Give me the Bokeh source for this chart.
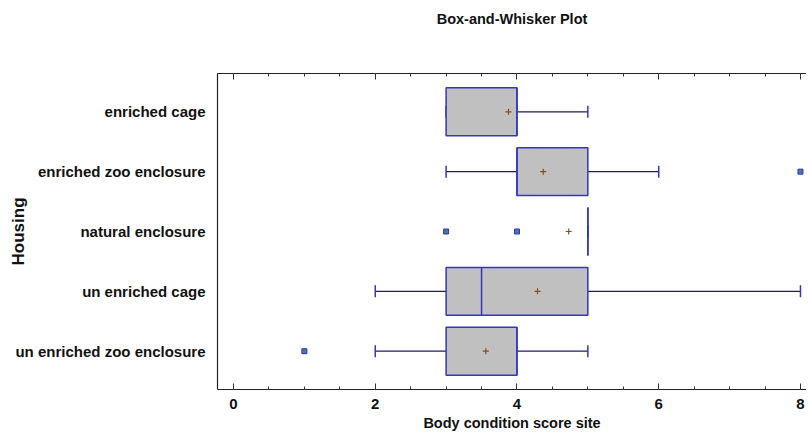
from bokeh.plotting import figure
from bokeh.models import (FactorRange, Range1d, LinearAxis, SingleIntervalTicker,
                          ColumnDataSource, CustomJSTickFormatter)
from bokeh.transform import dodge
from bokeh.embed import file_html
from bokeh.resources import INLINE

# ---- data ----
cats = ["enriched cage", "enriched zoo enclosure", "natural enclosure",
        "un enriched cage", "un enriched zoo enclosure"]
q1 = [3, 4, 5, 3, 3]
q3 = [4, 5, 5, 5, 4]
median = [4, 4, 5, 3.5, 4]
wmin = [3, 3, 5, 2, 2]
wmax = [5, 6, 5, 8, 5]
mean = [3.88, 4.37, 4.73, 4.29, 3.56]
out_cat = ["enriched zoo enclosure", "natural enclosure", "natural enclosure",
           "un enriched zoo enclosure"]
out_val = [8, 3, 4, 1]
x_ticks_interval = 2
title_text = "Box-and-Whisker Plot"

FONT = "Liberation Sans"
BOX_LINE = "#3434c8"
WHISK = "#1c1c60"
TXT = "#111111"

src = ColumnDataSource(dict(cat=cats, q1=q1, q3=q3, med=median,
                            wmin=wmin, wmax=wmax, mean=mean))
osrc = ColumnDataSource(dict(cat=out_cat, val=out_val))

yr = FactorRange(factors=cats[::-1], range_padding=0.056, range_padding_units="percent")
p = figure(width=806, height=434, y_range=yr, x_range=Range1d(-0.2257, 8.085),
           output_backend="svg", toolbar_location=None,
           min_border_left=217, min_border_right=0, min_border_top=73, min_border_bottom=45)
p.outline_line_color = None
p.xgrid.visible = False
p.ygrid.visible = False

# whiskers
p.segment(x0="wmin", x1="q1", y0="cat", y1="cat", source=src, line_color=WHISK, line_width=1.3)
p.segment(x0="q3", x1="wmax", y0="cat", y1="cat", source=src, line_color=WHISK, line_width=1.3)
# caps
for col in ("wmin", "wmax"):
    p.segment(x0=col, x1=col, y0=dodge("cat", -0.1, range=yr), y1=dodge("cat", 0.1, range=yr),
              source=src, line_color=BOX_LINE, line_width=1.5)
# boxes
p.hbar(y="cat", left="q1", right="q3", height=0.8, source=src,
       fill_color="#c0c0c0", line_color=BOX_LINE, line_width=1.5)
# medians
p.segment(x0="med", x1="med", y0=dodge("cat", -0.4, range=yr), y1=dodge("cat", 0.4, range=yr),
          source=src, line_color=BOX_LINE, line_width=1.5)
# means
p.scatter(x="mean", y="cat", source=src, marker="cross", size=6, line_color="#8a4a20", line_width=1.2)
# outliers
p.scatter(x="val", y="cat", source=osrc, marker="square", size=5,
          line_color="#3030c8", fill_color="#4a7a9a", line_width=1)

# bottom axis
xa = p.xaxis[0]
xa.ticker = SingleIntervalTicker(interval=x_ticks_interval, num_minor_ticks=4)
xa.major_tick_in = 6
xa.major_tick_out = 0
xa.minor_tick_in = 3
xa.minor_tick_out = 0
xa.axis_line_color = "#222222"
xa.axis_line_width = 1.2
xa.major_tick_line_color = "#333333"
xa.minor_tick_line_color = "#333333"
xa.major_label_text_font = FONT
xa.major_label_text_font_style = "bold"
xa.major_label_text_font_size = "15px"
xa.major_label_text_color = TXT
xa.major_label_standoff = 9
xa.axis_label = "Body condition score site"
xa.axis_label_text_font = FONT
xa.axis_label_text_font_style = "bold"
xa.axis_label_text_font_size = "14.5px"
xa.axis_label_text_color = TXT
xa.axis_label_standoff = 3

# top mirrored axis (ticks only); its label carries the chart title
ta = LinearAxis(ticker=SingleIntervalTicker(interval=x_ticks_interval, num_minor_ticks=4),
                formatter=CustomJSTickFormatter(code="return ''"),
                major_tick_in=6, major_tick_out=0, minor_tick_in=3, minor_tick_out=0,
                axis_line_color="#222222", axis_line_width=1.2,
                major_tick_line_color="#333333", minor_tick_line_color="#333333",
                major_label_standoff=0,
                axis_label=title_text, axis_label_standoff=47,
                axis_label_text_font=FONT, axis_label_text_font_style="bold",
                axis_label_text_font_size="14.5px", axis_label_text_color=TXT)
p.add_layout(ta, "above")

# left axis
ya = p.yaxis[0]
ya.major_tick_line_color = None
ya.minor_tick_line_color = None
ya.major_tick_out = 0
ya.major_tick_in = 0
ya.axis_line_color = "#222222"
ya.axis_line_width = 1.2
ya.major_label_text_font = FONT
ya.major_label_text_font_style = "bold"
ya.major_label_text_font_size = "15px"
ya.major_label_text_color = TXT
ya.major_label_standoff = 12
ya.axis_label = "Housing"
ya.axis_label_text_font = FONT
ya.axis_label_text_font_style = "bold"
ya.axis_label_text_font_size = "17px"
ya.axis_label_text_color = TXT
ya.axis_label_standoff = -16

open("out.html", "w").write(file_html(p, INLINE))
